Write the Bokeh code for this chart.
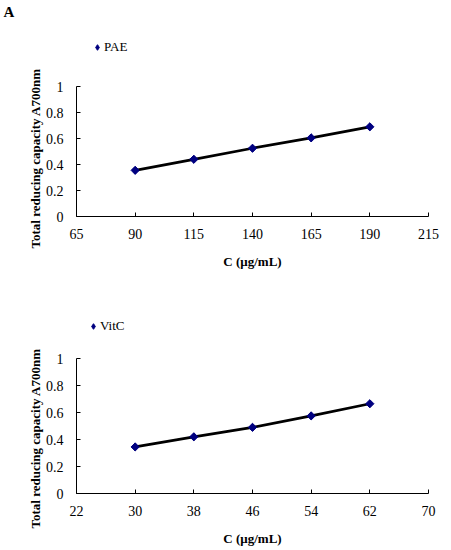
import math

from bokeh.embed import file_html
from bokeh.resources import INLINE
from bokeh.layouts import column
from bokeh.models import (FixedTicker, CustomJSTickFormatter, Legend, LegendItem,
                          Range1d, Title)
from bokeh.plotting import figure

# --- data ---
pae_c = [90, 115, 140, 165, 190]
pae_a = [0.355, 0.44, 0.525, 0.605, 0.69]
pae_xticks = [65, 90, 115, 140, 165, 190, 215]

vitc_c = [30, 38, 46, 54, 62]
vitc_a = [0.345, 0.42, 0.49, 0.575, 0.665]
vitc_xticks = [22, 30, 38, 46, 54, 62, 70]

y_ticks = [0, 0.2, 0.4, 0.6, 0.8, 1]

y_title = "Total reducing capacity A700nm"
x_title = "C (\u03bcg/mL)"

FONT = "Liberation Serif"
NAVY = "#000080"


def panel(xs, ys, xticks, name, height, y_top, borders, leg_xy, ylab_offset):
    top, bottom, left, right = borders
    p = figure(width=451, height=height, output_backend="svg",
               toolbar_location=None,
               x_range=Range1d(xticks[0], xticks[-1]), y_range=Range1d(0, y_top),
               min_border_top=top, min_border_bottom=bottom,
               min_border_left=left, min_border_right=right)
    p.outline_line_color = None
    p.grid.visible = False

    p.line(xs, ys, line_color="black", line_width=2.7)
    # narrow diamond (sits under the big markers) gives the legend its glyph
    leg_pts = p.scatter(xs, ys, marker="diamond", size=7,
                        fill_color=NAVY, line_color=NAVY)
    # Excel-style diamond: a square turned 45 degrees
    p.scatter(xs, ys, marker="square", angle=math.pi / 4, size=5.8,
              fill_color=NAVY, line_color=NAVY)

    p.xaxis.ticker = FixedTicker(ticks=xticks)
    p.yaxis.ticker = FixedTicker(ticks=y_ticks)
    p.yaxis.bounds = (y_ticks[0], y_ticks[-1])
    p.yaxis.formatter = CustomJSTickFormatter(
        code="return tick.toFixed(1).replace(/\\.0$/, '');")

    for ax in (p.xaxis, p.yaxis):
        ax.axis_line_color = "black"
        ax.major_tick_line_color = "black"
        ax.major_tick_in = 4
        ax.major_tick_out = 0
        ax.minor_tick_line_color = None
        ax.major_label_text_font = FONT
        ax.major_label_text_font_size = "14px"
        ax.major_label_text_color = "black"

    p.xaxis.axis_label = x_title
    p.xaxis.axis_label_text_font = FONT
    p.xaxis.axis_label_text_font_size = "13px"
    p.xaxis.axis_label_text_font_style = "bold"
    p.xaxis.axis_label_text_color = "black"
    p.xaxis.major_label_standoff = 12
    p.xaxis.axis_label_standoff = 12
    p.yaxis.major_label_standoff = 13

    # y axis title as a side title so it can be shifted along the axis
    p.add_layout(Title(text=y_title, align="left", offset=ylab_offset,
                       standoff=0, text_font=FONT, text_font_size="13px",
                       text_font_style="bold", text_color="black"), "left")

    leg = Legend(items=[LegendItem(label=name, renderers=[leg_pts])],
                 location=leg_xy, padding=0, margin=0, spacing=0,
                 glyph_width=14, glyph_height=14, label_height=14,
                 label_standoff=0, border_line_color=None,
                 background_fill_alpha=0,
                 label_text_font=FONT, label_text_font_size="13px",
                 label_text_color="black")
    p.add_layout(leg, "center")
    return p


top = panel(pae_c, pae_a, pae_xticks, "PAE", 272, 1.477,
            (24, 56, 76, 23), (14, 161), -32)
bottom = panel(vitc_c, vitc_a, vitc_xticks, "VitC", 278, 1.3556,
               (38, 57, 75, 12), (10, 159), -35)

top.title.text = "A"
top.title.align = "left"
top.title.vertical_align = "top"
top.title.offset = -73
top.title.standoff = 6
top.title.text_font = FONT
top.title.text_font_size = "15px"
top.title.text_font_style = "bold"
top.title.text_color = "black"

p = column(top, bottom, spacing=0)
open("out.html", "w").write(file_html(p, INLINE))
